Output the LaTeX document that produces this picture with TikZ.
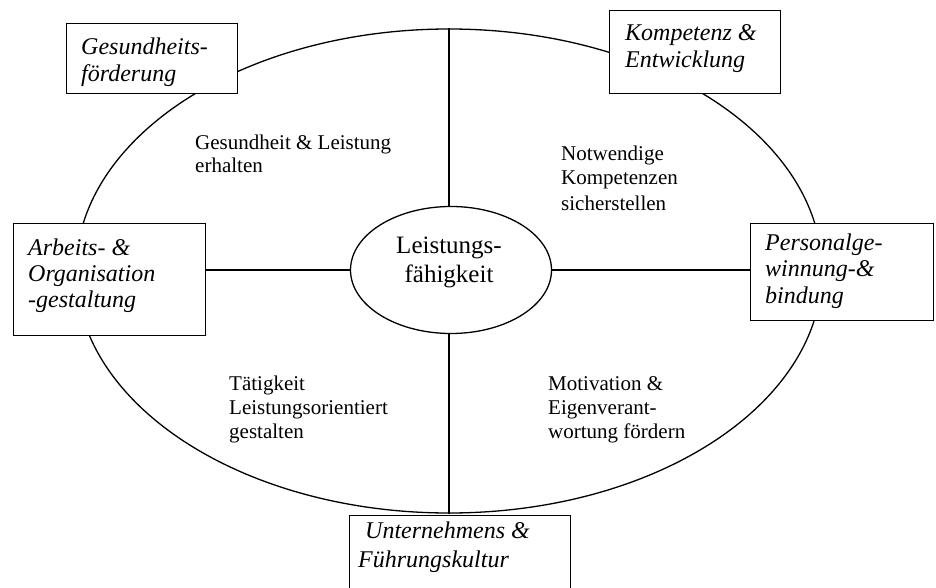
\documentclass[tikz,border=0pt]{standalone}
\usepackage{fontspec}
\setmainfont{Liberation Serif}
\usetikzlibrary{shapes.geometric}
\begin{document}
\begin{tikzpicture}[x=1pt,y=-1pt,
  ln/.style={line width=1.3pt},
  box/.style={draw, fill=white, line width=1.3pt, inner sep=0, anchor=north west},
  boxtext/.style={font=\fontsize{24}{27}\selectfont\itshape, align=left, anchor=base west, inner sep=0},
  lbl/.style={font=\fontsize{21}{24}\selectfont, align=left, anchor=base west, inner sep=0},
  coretext/.style={font=\fontsize{25}{29}\selectfont, align=center, anchor=base, inner sep=0}]
\useasboundingbox (0,0) rectangle (936,588);
\clip (0,0) rectangle (936,588);
\fill[white] (0,0) rectangle (936,588);
% outer ellipse
\node[draw, ellipse, ln, minimum width=746pt, minimum height=484pt, inner sep=0] (outer) at (449,271) {};
% core ellipse
\node[draw, ellipse, ln, minimum width=201pt, minimum height=127pt, inner sep=0] (core) at (451,270) {};
\node[coretext] (coret) at (449,282) {Leistungs-\\fähigkeit};
% boxes
\node[box, minimum width=171pt, minimum height=70pt] (b1) at (66,23) {};
\node[box, minimum width=171pt, minimum height=83pt] (b2) at (609,10) {};
\node[box, minimum width=192pt, minimum height=112pt] (b3) at (13,223) {};
\node[box, minimum width=183pt, minimum height=97pt] (b4) at (750,223) {};
\node[box, minimum width=221pt, minimum height=100pt] (b5) at (349,515) {};
% connectors
\draw[ln] (outer.north) -- (outer.north |- core.north);
\draw[ln] (outer.south |- core.south) -- (outer.south);
\draw[ln] (b3.east |- core.west) -- (core.west);
\draw[ln] (core.east) -- (b4.west |- core.east);
% box texts
\node[boxtext] (b1t) at (81,82) {Gesundheits-\\förderung};
\node[boxtext] (b2t) at (625,68) {Kompetenz \&\\Entwicklung};
\node[boxtext, font=\fontsize{24}{26}\selectfont\itshape] (b3t) at (28,307) {Arbeits- \&\\Organisation\\-gestaltung};
\node[boxtext, font=\fontsize{24}{26.5}\selectfont\itshape] (b4t) at (765,303) {Personalge-\\winnung-\&\\bindung};
\node[boxtext, font=\fontsize{24}{29}\selectfont\itshape] (b5t) at (358,567) {\hspace{7pt}Unternehmens \&\\Führungskultur};
% labels
\node[lbl, font=\fontsize{21}{23}\selectfont] (l1) at (195,173) {Gesundheit \& Leistung\\erhalten};
\node[lbl, font=\fontsize{21}{25}\selectfont] (l2) at (561,210) {Notwendige\\Kompetenzen\\sicherstellen};
\node[lbl] (l3) at (229,438) {Tätigkeit\\Leistungsorientiert\\gestalten};
\node[lbl] (l4) at (548,438) {Motivation \&\\Eigenverant-\\wortung fördern};
\end{tikzpicture}
\end{document}
